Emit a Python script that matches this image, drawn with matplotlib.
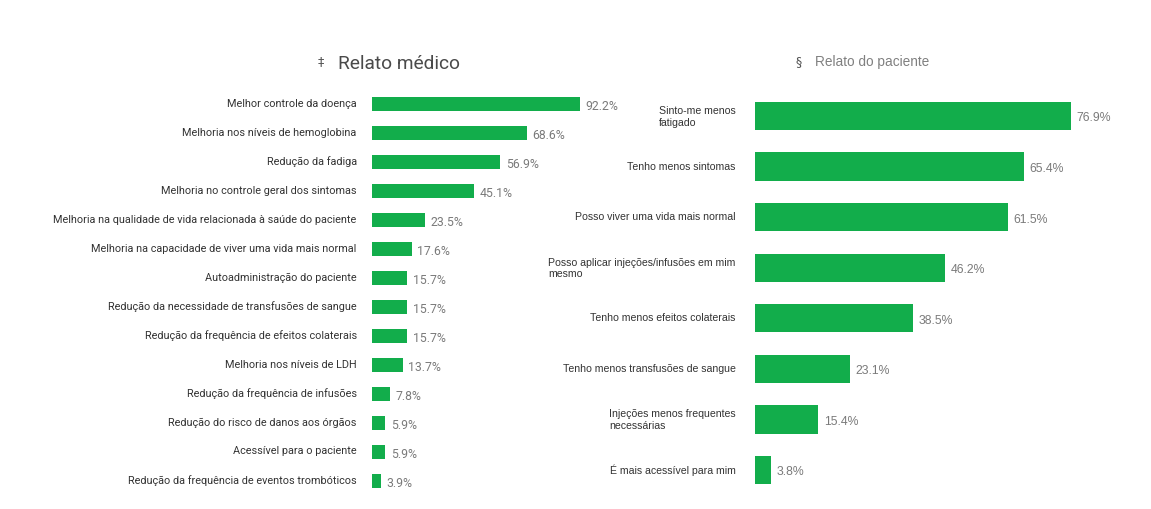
import matplotlib
matplotlib.use("Agg")
import matplotlib.pyplot as plt
import matplotlib.transforms as mtransforms

# Physician-reported benefits
medico_categorias = [
    "Melhor controle da doença",
    "Melhoria nos níveis de hemoglobina",
    "Redução da fadiga",
    "Melhoria no controle geral dos sintomas",
    "Melhoria na qualidade de vida relacionada à saúde do paciente",
    "Melhoria na capacidade de viver uma vida mais normal",
    "Autoadministração do paciente",
    "Redução da necessidade de transfusões de sangue",
    "Redução da frequência de efeitos colaterais",
    "Melhoria nos níveis de LDH",
    "Redução da frequência de infusões",
    "Redução do risco de danos aos órgãos",
    "Acessível para o paciente",
    "Redução da frequência de eventos trombóticos",
]
medico_valores = [92.2, 68.6, 56.9, 45.1, 23.5, 17.6, 15.7, 15.7, 15.7, 13.7, 7.8, 5.9, 5.9, 3.9]

# Patient-reported benefits
paciente_categorias = [
    "Sinto-me menos\nfatigado",
    "Tenho menos sintomas",
    "Posso viver uma vida mais normal",
    "Posso aplicar injeções/infusões em mim\nmesmo",
    "Tenho menos efeitos colaterais",
    "Tenho menos transfusões de sangue",
    "Injeções menos frequentes\nnecessárias",
    "É mais acessível para mim",
]
paciente_valores = [76.9, 65.4, 61.5, 46.2, 38.5, 23.1, 15.4, 3.8]

VERDE = "#12ad4b"
W, H = 1151, 510
fig = plt.figure(figsize=(W / 100, H / 100), dpi=100)
fig.patch.set_facecolor("white")


def px_axes(x0, top, width, bottom):
    return fig.add_axes([x0 / W, 1 - bottom / H, width / W, (bottom - top) / H])


def style(ax):
    for s in ax.spines.values():
        s.set_visible(False)
    ax.set_xticks([])
    ax.tick_params(axis="y", length=0)


def lift_labels(ax, dy_px):
    shift = mtransforms.ScaledTranslation(0, dy_px / 100, fig.dpi_scale_trans)
    for t in ax.get_yticklabels():
        t.set_transform(t.get_transform() + shift)


# Left panel
ax1 = px_axes(372, 90.5, 225.6, 496.5)
y1 = range(len(medico_valores))
ax1.barh(y1, medico_valores, height=0.46, color=VERDE)
ax1.set_xlim(0, 100)
ax1.set_ylim(len(medico_valores) - 0.5, -0.5)
ax1.set_yticks(list(y1))
ax1.set_yticklabels(medico_categorias, fontsize=7.8, color="#333333", family="Roboto")
ax1.tick_params(axis="y", pad=11)
style(ax1)
lift_labels(ax1, 2.5)
for y, v in zip(y1, medico_valores):
    ax1.annotate(f"{v:.1f}%", (v, y), xytext=(4, -1), textcoords="offset points",
                 ha="left", va="center", fontsize=8.8, color="#7a7a7a", family="Roboto")

fig.text(318 / W, 1 - 62 / H, "‡", fontsize=9, color="#555555", ha="left", va="center",
         family="DejaVu Sans")
fig.text(338 / W, 1 - 64 / H, "Relato médico", fontsize=13.8, color="#4a4a4a",
         ha="left", va="center", family="Roboto")

# Right panel
ax2 = px_axes(755, 91.7, 411, 496.3)
y2 = range(len(paciente_valores))
ax2.barh(y2, paciente_valores, height=0.56, color=VERDE)
ax2.set_xlim(0, 100)
ax2.set_ylim(len(paciente_valores) - 0.5, -0.5)
ax2.set_yticks(list(y2))
ax2.set_yticklabels(paciente_categorias, fontsize=7.6, color="#333333",
                    family="Liberation Sans", multialignment="left")
ax2.tick_params(axis="y", pad=14)
style(ax2)
lift_labels(ax2, 2)
for y, v in zip(y2, paciente_valores):
    ax2.annotate(f"{v:.1f}%", (v, y), xytext=(4, -1), textcoords="offset points",
                 ha="left", va="center", fontsize=8.8, color="#7a7a7a",
                 family="Liberation Sans")

fig.text(795 / W, 1 - 62 / H, "§", fontsize=9, color="#555555", ha="left", va="center",
         family="DejaVu Sans")
fig.text(815 / W, 1 - 62 / H, "Relato do paciente", fontsize=9.8, color="#808080",
         ha="left", va="center", family="Liberation Sans")

fig.savefig("out.png", dpi=100, facecolor="white")
